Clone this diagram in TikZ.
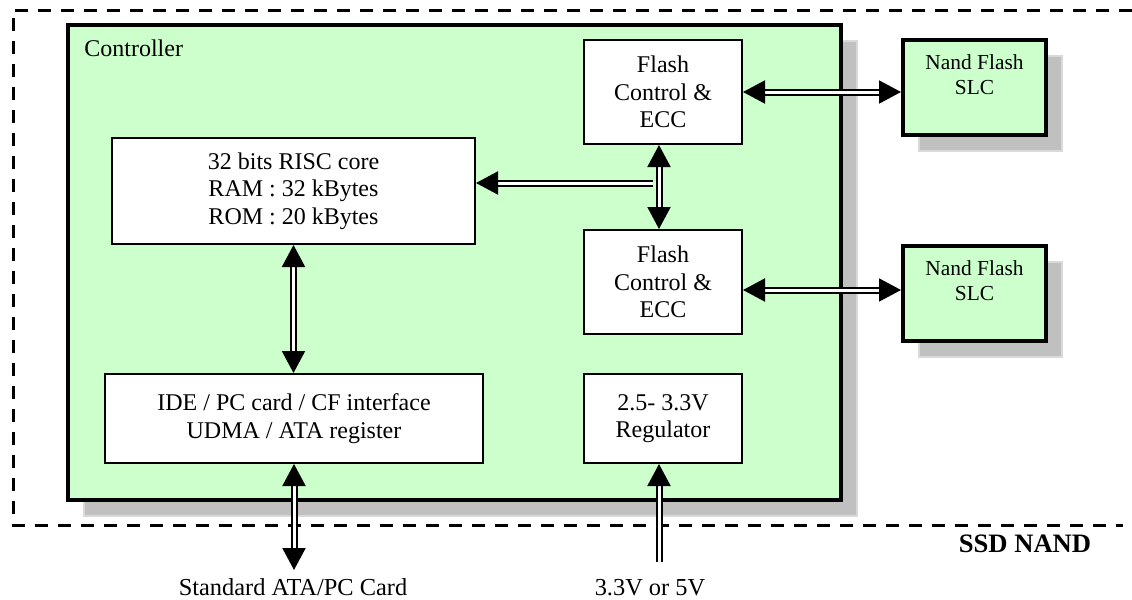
\documentclass[tikz,border=0pt]{standalone}
\usepackage{fontspec}
\setmainfont{Liberation Serif}
\usetikzlibrary{arrows.meta,positioning,calc,shadows}
\definecolor{ctrlgreen}{HTML}{CCFFCC}
\definecolor{shadowgray}{HTML}{C0C0C0}

\begin{document}
\begin{tikzpicture}[x=0.5pt,y=-0.5pt,
 every node/.style={font=\fontsize{12}{13.8}\selectfont},
 >={Triangle[length=11pt,width=11.5pt]},
 sh/.style={drop shadow={shadow xshift=8pt,shadow yshift=-8pt,opacity=1,fill=shadowgray,draw=black!15,line width=0.6pt}},
 ctrlbox/.style={draw,line width=2pt,fill=ctrlgreen,sh,minimum width=386.5pt,minimum height=237.5pt},
 blk/.style={draw,line width=1pt,fill=white,align=center,inner sep=2pt},
 nandbox/.style={draw,line width=2pt,fill=ctrlgreen,sh,minimum width=71.5pt,minimum height=47.5pt},
 nandtxt/.style={align=center,inner sep=0pt,font=\fontsize{10.7}{12.5}\selectfont},
 lbl/.style={anchor=base,font=\fontsize{12.2}{15}\selectfont},
 bus/.style={draw,line width=1pt,double=white,double distance=1.5pt}]
\useasboundingbox (0,0) rectangle (1132,600);
% outer SSD frame
\draw[line width=1.5pt,dash pattern=on 6.5pt off 5pt] (1132,10) -- (13,10) -- (13,525) -- (1123,525);
\node[anchor=base,font=\fontsize{13.3}{15}\selectfont\bfseries] (ssd) at (1025,552) {SSD NAND};
% controller
\node[ctrlbox] (ctrl) at (454.5,262.5) {};
\node[anchor=base west,inner sep=0pt,font=\fontsize{12}{14}\selectfont] (ctrllbl) at (84,56) {Controller};
\node[blk,minimum width=181.5pt,minimum height=53pt] (risc) at (293.5,191) {32 bits RISC core\\RAM : 32 kBytes\\ROM : 20 kBytes};
\node[blk,minimum width=189pt,minimum height=44.5pt] (ide) at (294,418.5) {IDE / PC card / CF interface\\UDMA / ATA register};
\node[blk,minimum width=79pt,minimum height=52pt] (f1) at (663,92) {Flash\\Control \&\\ECC};
\node[blk,minimum width=79pt,minimum height=52pt,below=42pt of f1] (f2) {Flash\\Control \&\\ECC};
\node[blk,minimum width=79pt,minimum height=44.5pt,below=19pt of f2] (reg) {2.5- 3.3V\\Regulator};
% flash chips
\node[nandbox] (n1) at (974.5,87.5) {};
\node[nandtxt,below=8pt of n1.north] (n1txt) {Nand Flash\\SLC};
\node[nandbox] (n2) at (974.5,293.5) {};
\node[nandtxt,below=8pt of n2.north] (n2txt) {Nand Flash\\SLC};
% buses
\draw[bus,<->] (f1.east) -- (f1.east -| n1.west);
\draw[bus,<->] ([yshift=-4pt]f2.east) -- ([yshift=-4pt]f2.east -| n2.west);
\draw[bus,<->] ([xshift=-2pt]f1.south) -- ([xshift=-2pt]f2.north);
\coordinate (tap) at (653,183);
\draw[bus,->] (tap) -- (tap -| risc.east);
\draw[bus,<->] (risc.south) -- (risc.south |- ide.north);
\coordinate (ata) at (294,570);
\draw[bus,<->] (ide.south) -- (ata);
\coordinate (pwr) at (659,562);
\draw[bus,->] (pwr) -- (pwr |- reg.south);
% outside labels
\node[lbl] (atalbl) at (293,595) {Standard ATA/PC Card};
\node[lbl] (pwrlbl) at (650,595) {3.3V or 5V};
\end{tikzpicture}
\end{document}
